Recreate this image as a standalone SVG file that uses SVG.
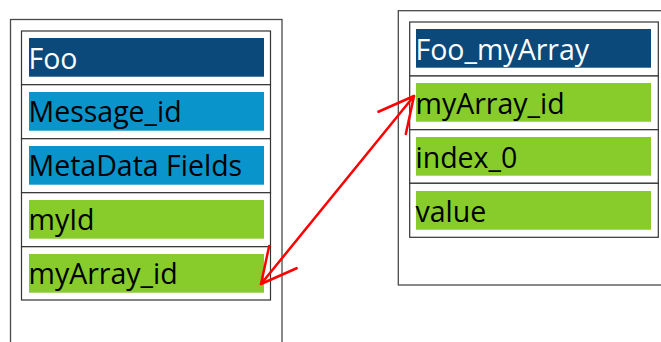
<svg xmlns="http://www.w3.org/2000/svg" width="661" height="342" viewBox="0 0 661 342">
<style>
.outer{fill:none;stroke:#4a4a4a;stroke-width:1.3}
.row{fill:#fff;stroke:#333;stroke-width:1.2}
.dark{fill:#0B497B}
.blue{fill:#0A94CC}
.green{fill:#87CC2A}
text{font-family:"Open Sans","Liberation Sans",sans-serif;font-size:28.5px}
.w{fill:#fff}
.k{fill:#000}
.arrow{fill:none;stroke:#FF0000;stroke-width:2.5;stroke-linecap:round;stroke-linejoin:round}
</style>
<defs>
<marker id="open" markerUnits="userSpaceOnUse" viewBox="-40 -20 44 40" markerWidth="44" markerHeight="40" refX="0" refY="0" orient="auto-start-reverse" overflow="visible">
<path d="M-34.7,-17.7 L0,0 L-34.7,17.7" fill="none" stroke="#FF0000" stroke-width="2.5" stroke-linecap="round" stroke-linejoin="round"/>
</marker>
</defs>
<rect x="0" y="0" width="661" height="342" fill="#fff"/>
<g id="Foo">
<rect class="outer" x="10.5" y="19.5" width="271.5" height="340"/>
<rect class="row" x="21.5" y="31" width="249" height="53.7"/>
<rect class="dark" x="29" y="38" width="235" height="38.7"/>
<text class="w" x="28.5" y="68.5">Foo</text>
<rect class="row" x="21.5" y="84.7" width="249" height="54"/>
<rect class="blue" x="29" y="92" width="235" height="38.7"/>
<text class="k" x="28.5" y="122">Message_id</text>
<rect class="row" x="21.5" y="138.7" width="249" height="54"/>
<rect class="blue" x="29" y="146" width="235" height="38.7"/>
<text class="k" x="28.5" y="176">MetaData Fields</text>
<rect class="row" x="21.5" y="192.7" width="249" height="54"/>
<rect class="green" x="29" y="200" width="235" height="38.7"/>
<text class="k" x="28.5" y="230">myId</text>
<rect class="row" x="21.5" y="246.7" width="249" height="53.3"/>
<rect class="green" x="29" y="254" width="235" height="38.7"/>
<text class="k" x="28.5" y="284">myArray_id</text>
</g>
<g id="Foo_myArray">
<rect class="outer" x="398.3" y="10.7" width="280" height="274.3"/>
<rect class="row" x="409.7" y="22" width="248.6" height="54"/>
<rect class="dark" x="416" y="29" width="235" height="38.7"/>
<text class="w" x="415.5" y="60">Foo_myArray</text>
<rect class="row" x="409.7" y="76" width="248.6" height="53.7"/>
<rect class="green" x="416" y="83" width="235" height="38.7"/>
<text class="k" x="415.5" y="114">myArray_id</text>
<rect class="row" x="409.7" y="129.7" width="248.6" height="53.6"/>
<rect class="green" x="416" y="137" width="235" height="38.7"/>
<text class="k" x="415.5" y="168">index_0</text>
<rect class="row" x="409.7" y="183.3" width="248.6" height="54"/>
<rect class="green" x="416" y="191" width="235" height="38.7"/>
<text class="k" x="415.5" y="222">value</text>
</g>
<g id="connectors">
<path class="arrow" d="M261,284 L414,96" marker-start="url(#open)" marker-end="url(#open)"/>
</g>
</svg>
